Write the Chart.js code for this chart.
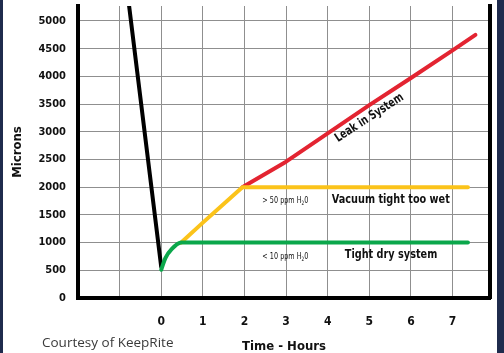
<!DOCTYPE html>
<html>
<head>
<meta charset="utf-8">
<script src="https://cdn.jsdelivr.net/npm/chart.js@4/dist/chart.umd.min.js"></script>
<style>
  html, body { margin: 0; padding: 0; background: #fff; }
  #wrap { width: 504px; height: 353px; position: relative; }
</style>
</head>
<body>
<div id="wrap"><canvas id="chart" width="504" height="353"></canvas></div>
<script>
// chart data (hours, microns)
const pumpDownX = [-0.78, 0];
const pumpDownY = [5320, 560];
const dryX = [0, 0.1, 0.25, 0.48, 7.37];
const dryY = [510, 720, 880, 1000, 1000];
const wetX = [0.48, 1, 1.5, 1.95, 7.37];
const wetY = [1000, 1360, 1695, 2000, 2000];
const leakX = [1.95, 3, 4, 5, 6, 7, 7.55];
const leakY = [2000, 2460, 2970, 3480, 3970, 4470, 4750];
const xGrid = [-2, -1, 0, 1, 2, 3, 4, 5, 6, 7];
const xTickLabels = [0, 1, 2, 3, 4, 5, 6, 7];
const yTickLabels = [0, 500, 1000, 1500, 2000, 2500, 3000, 3500, 4000, 4500, 5000];

const NARROW = "'Liberation Sans Narrow', 'DejaVu Sans Condensed', sans-serif";

const toPoints = (xs, ys) => xs.map((x, i) => ({ x, y: ys[i] }));

function lineSet(label, xs, ys, color, order, smooth) {
  return {
    label,
    data: toPoints(xs, ys),
    borderColor: color,
    borderWidth: 4,
    borderCapStyle: "round",
    borderJoinStyle: "round",
    pointRadius: 0,
    cubicInterpolationMode: smooth ? "monotone" : "default",
    tension: smooth ? 0.4 : 0,
    fill: false,
    order
  };
}

// draw narrow text by squeezing the canvas horizontally
function narrowText(ctx, text, x, y, squeeze) {
  ctx.save();
  ctx.translate(x, y);
  ctx.scale(squeeze, 1);
  ctx.fillText(text, 0, 0);
  const w = ctx.measureText(text).width * squeeze;
  ctx.restore();
  return w;
}

// Notes drawn on the plot area
const notes = {
  id: "notes",
  beforeDraw(chart) {
    const { ctx, width, height } = chart;
    ctx.save();
    ctx.fillStyle = "#1f2b4d";
    ctx.fillRect(0, 0, 3, height);
    ctx.fillRect(width - 7, 0, 7, height);
    ctx.restore();
  },
  afterDatasetsDraw(chart) {
    const { ctx } = chart;
    const xs = chart.scales.x, ys = chart.scales.y;
    const px = v => xs.getPixelForValue(v);
    const py = v => ys.getPixelForValue(v);
    ctx.save();
    ctx.fillStyle = "#111";
    ctx.textBaseline = "middle";

    // Leak in System (rotated along red line)
    ctx.save();
    ctx.translate(px(5.0), py(3250));
    ctx.rotate(-33 * Math.PI / 180);
    ctx.scale(0.82, 1);
    ctx.font = "bold 12.5px " + NARROW;
    ctx.textAlign = "center";
    ctx.fillText("Leak in System", 0, 0);
    ctx.restore();

    ctx.textAlign = "left";
    ctx.font = "bold 13px " + NARROW;
    narrowText(ctx, "Vacuum tight too wet", px(4.1), py(1770), 0.83);
    narrowText(ctx, "Tight dry system", px(4.41), py(776), 0.83);

    // ppm notes with subscript
    [[">", 1755, "50"], ["<", 755, "10"]].forEach(([sign, yv, n]) => {
      let x = px(2.43);
      const y = py(yv);
      ctx.font = "9px " + NARROW;
      x += narrowText(ctx, sign + " " + n + " ppm H", x, y, 0.8);
      ctx.font = "6px " + NARROW;
      x += narrowText(ctx, "2", x, y + 3, 0.8);
      ctx.font = "9px " + NARROW;
      narrowText(ctx, "0", x, y, 0.8);
    });

    // credit
    ctx.font = "13.5px 'Open Sans', sans-serif";
    ctx.fillStyle = "#3a3a3a";
    ctx.fillText("Courtesy of KeepRite", 42, 343);
    ctx.restore();
  }
};

new Chart(document.getElementById("chart"), {
  type: "line",
  data: {
    datasets: [
      lineSet("Pump down", pumpDownX, pumpDownY, "#000000", 4, false),
      lineSet("Leak in System", leakX, leakY, "#e32431", 3, false),
      lineSet("Vacuum tight too wet", wetX, wetY, "#fbc31a", 2, false),
      lineSet("Tight dry system", dryX, dryY, "#0ba74b", 1, true)
    ]
  },
  options: {
    responsive: false,
    animation: false,
    layout: { padding: { top: 6, left: 0, right: 0, bottom: 0 } },
    plugins: { legend: { display: false }, tooltip: { enabled: false } },
    scales: {
      x: {
        type: "linear",
        min: -2,
        max: 7.9,
        afterBuildTicks: s => { s.ticks = xGrid.map(v => ({ value: v })); },
        afterFit: s => { s.height = 55; s.paddingLeft = 0; s.paddingRight = 0; },
        ticks: {
          autoSkip: false,
          maxRotation: 0,
          padding: 17,
          color: "#111",
          font: { family: NARROW, size: 12, weight: "bold" },
          callback: v => (xTickLabels.includes(v) ? String(v) : "")
        },
        grid: { color: "#8f8f8f", lineWidth: 1, drawTicks: false },
        border: { color: "#000", width: 4 },
        title: {
          display: true,
          text: "Time - Hours",
          color: "#111",
          font: { family: NARROW, size: 13, weight: "bold", lineHeight: 1 },
          padding: { top: 0, bottom: 0 }
        }
      },
      y: {
        type: "linear",
        min: 0,
        max: 5270,
        afterBuildTicks: s => { s.ticks = yTickLabels.map(v => ({ value: v })); },
        afterFit: s => { s.width = 78; s.paddingTop = 0; s.paddingBottom = 0; },
        ticks: {
          autoSkip: false,
          padding: 12,
          color: "#111",
          font: { family: NARROW, size: 11, weight: "bold" },
          callback: v => String(v)
        },
        grid: { color: "#8f8f8f", lineWidth: 1, drawTicks: false },
        border: { color: "#000", width: 4 },
        title: {
          display: true,
          text: "Microns",
          color: "#111",
          font: { family: NARROW, size: 13, weight: "bold", lineHeight: 1.2 },
          padding: { top: 10, bottom: 0 }
        }
      },
      y2: {
        type: "linear",
        position: "right",
        min: 0,
        max: 1,
        afterFit: s => { s.width = 14; s.paddingTop = 0; s.paddingBottom = 0; },
        ticks: { display: false },
        grid: { drawOnChartArea: false, drawTicks: false },
        border: { color: "#000", width: 4 }
      }
    }
  },
  plugins: [notes]
});
</script>
</body>
</html>
